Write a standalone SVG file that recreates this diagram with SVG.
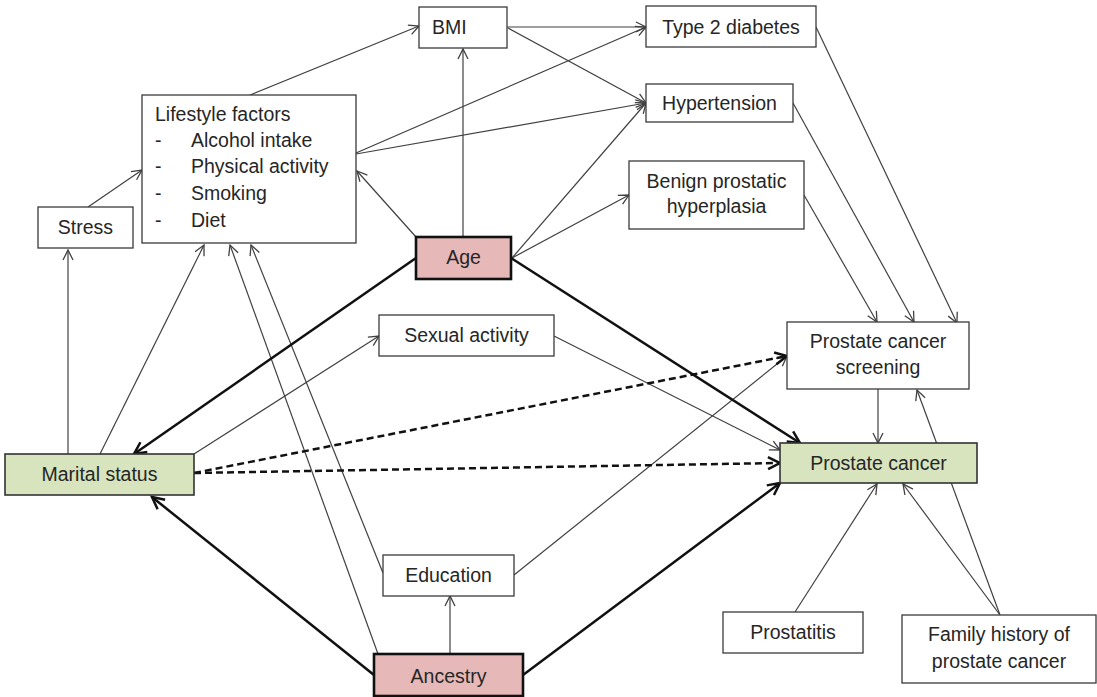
<svg xmlns="http://www.w3.org/2000/svg" width="1097" height="697" viewBox="0 0 1097 697">
  <defs>
    <style>
      .box { fill: #ffffff; stroke: #3a3a3a; stroke-width: 1.3; }
      .red { fill: #e6b9b8; stroke: #111111; stroke-width: 2.6; }
      .green { fill: #d7e4bd; stroke: #333333; stroke-width: 1.6; }
      text { font-family: "Liberation Sans", Arial, sans-serif; font-size: 19.5px; fill: #262626; }
      .c { text-anchor: middle; }
      .thin { fill: none; stroke: #404040; stroke-width: 1.2; marker-end: url(#arr); }
      .thick { fill: none; stroke: #111111; stroke-width: 2.5; marker-end: url(#arrBold); }
      .dash { fill: none; stroke: #111111; stroke-width: 2.5; stroke-dasharray: 7 4; marker-end: url(#arrBold); }
    </style>
    <marker id="arr" markerUnits="userSpaceOnUse" markerWidth="14" markerHeight="14" refX="12" refY="7" orient="auto">
      <path d="M2,2 L12,7 L2,12" fill="none" stroke="#404040" stroke-width="1.3"/>
    </marker>
    <marker id="arrBold" markerUnits="userSpaceOnUse" markerWidth="18" markerHeight="18" refX="15" refY="9" orient="auto">
      <path d="M3,3 L15,9 L3,15" fill="none" stroke="#111111" stroke-width="2.5"/>
    </marker>
  </defs>
  <rect width="1097" height="697" fill="#ffffff"/>

  <g id="connectors">
    <line class="thin" x1="88" y1="207" x2="142" y2="170"/>
    <line class="thin" x1="68" y1="454" x2="68" y2="250"/>
    <line class="thin" x1="100" y1="454" x2="204" y2="245"/>
    <line class="thin" x1="378" y1="654" x2="230" y2="245"/>
    <line class="thin" x1="383" y1="573" x2="251" y2="245"/>
    <line class="thin" x1="416" y1="237" x2="357" y2="171"/>
    <line class="thin" x1="250" y1="95" x2="419" y2="26"/>
    <line class="thin" x1="356" y1="153" x2="646" y2="27"/>
    <line class="thin" x1="356" y1="154" x2="646" y2="103"/>
    <line class="thin" x1="463" y1="237" x2="463" y2="49"/>
    <line class="thin" x1="507" y1="27" x2="646" y2="27"/>
    <line class="thin" x1="508" y1="28" x2="646" y2="103"/>
    <line class="thin" x1="512" y1="258" x2="646" y2="103"/>
    <line class="thin" x1="512" y1="258" x2="629" y2="195"/>
    <line class="thin" x1="194" y1="454" x2="379" y2="336"/>
    <line class="thin" x1="554" y1="336" x2="780" y2="450"/>
    <line class="thin" x1="514" y1="575" x2="787" y2="356"/>
    <line class="thin" x1="450" y1="654" x2="450" y2="596"/>
    <line class="thin" x1="816" y1="27" x2="957" y2="323"/>
    <line class="thin" x1="793" y1="103" x2="914" y2="322"/>
    <line class="thin" x1="804" y1="195" x2="877" y2="322"/>
    <line class="thin" x1="878" y1="389" x2="878" y2="443"/>
    <line class="thin" x1="795" y1="612" x2="877" y2="484"/>
    <line class="thin" x1="1000" y1="615" x2="903" y2="484"/>
    <line class="thin" x1="1000" y1="615" x2="917" y2="390"/>
    <line class="thick" x1="416" y1="258" x2="134" y2="454"/>
    <line class="thick" x1="511" y1="258" x2="800" y2="443"/>
    <line class="thick" x1="374" y1="675" x2="152" y2="497"/>
    <line class="thick" x1="523" y1="675" x2="780" y2="483"/>
    <line class="dash" x1="194" y1="473" x2="787" y2="356"/>
    <line class="dash" x1="194" y1="473" x2="780" y2="463"/>
  </g>

  <g id="stress">
    <rect class="box" x="38" y="207" width="95" height="41"/>
    <text class="c" x="85.5" y="234">Stress</text>
  </g>
  <g id="lifestyle">
    <rect class="box" x="142" y="95" width="214" height="148"/>
    <text x="155" y="121">Lifestyle factors</text>
    <text x="155" y="147">-</text><text x="191" y="147">Alcohol intake</text>
    <text x="155" y="173">-</text><text x="191" y="173">Physical activity</text>
    <text x="155" y="200">-</text><text x="191" y="200">Smoking</text>
    <text x="155" y="227">-</text><text x="191" y="227">Diet</text>
  </g>
  <g id="bmi">
    <rect class="box" x="419" y="7" width="88" height="41"/>
    <text x="432" y="34">BMI</text>
  </g>
  <g id="diabetes">
    <rect class="box" x="646" y="6" width="170" height="41"/>
    <text class="c" x="731" y="34">Type 2 diabetes</text>
  </g>
  <g id="hypertension">
    <rect class="box" x="646" y="84" width="147" height="38"/>
    <text class="c" x="719.5" y="110">Hypertension</text>
  </g>
  <g id="bph">
    <rect class="box" x="629" y="161" width="175" height="68"/>
    <text class="c" x="716.5" y="188">Benign prostatic</text>
    <text class="c" x="716.5" y="213">hyperplasia</text>
  </g>
  <g id="age">
    <rect class="red" x="416" y="237" width="95" height="42"/>
    <text class="c" x="463.5" y="264">Age</text>
  </g>
  <g id="sexual-activity">
    <rect class="box" x="379" y="315" width="175" height="41"/>
    <text class="c" x="466.5" y="342">Sexual activity</text>
  </g>
  <g id="screening">
    <rect class="box" x="787" y="322" width="182" height="67"/>
    <text class="c" x="878" y="348">Prostate cancer</text>
    <text class="c" x="878" y="374">screening</text>
  </g>
  <g id="prostate-cancer">
    <rect class="green" x="780" y="443" width="197" height="40"/>
    <text class="c" x="878.5" y="470">Prostate cancer</text>
  </g>
  <g id="marital-status">
    <rect class="green" x="5" y="454" width="189" height="41"/>
    <text class="c" x="99.5" y="481">Marital status</text>
  </g>
  <g id="education">
    <rect class="box" x="383" y="555" width="131" height="41"/>
    <text class="c" x="448.5" y="582">Education</text>
  </g>
  <g id="ancestry">
    <rect class="red" x="374" y="654" width="149" height="42"/>
    <text class="c" x="448.5" y="683">Ancestry</text>
  </g>
  <g id="prostatitis">
    <rect class="box" x="723" y="612" width="140" height="41"/>
    <text class="c" x="793" y="639">Prostatitis</text>
  </g>
  <g id="family-history">
    <rect class="box" x="902" y="615" width="194" height="68"/>
    <text class="c" x="999" y="641">Family history of</text>
    <text class="c" x="999" y="668">prostate cancer</text>
  </g>
</svg>
